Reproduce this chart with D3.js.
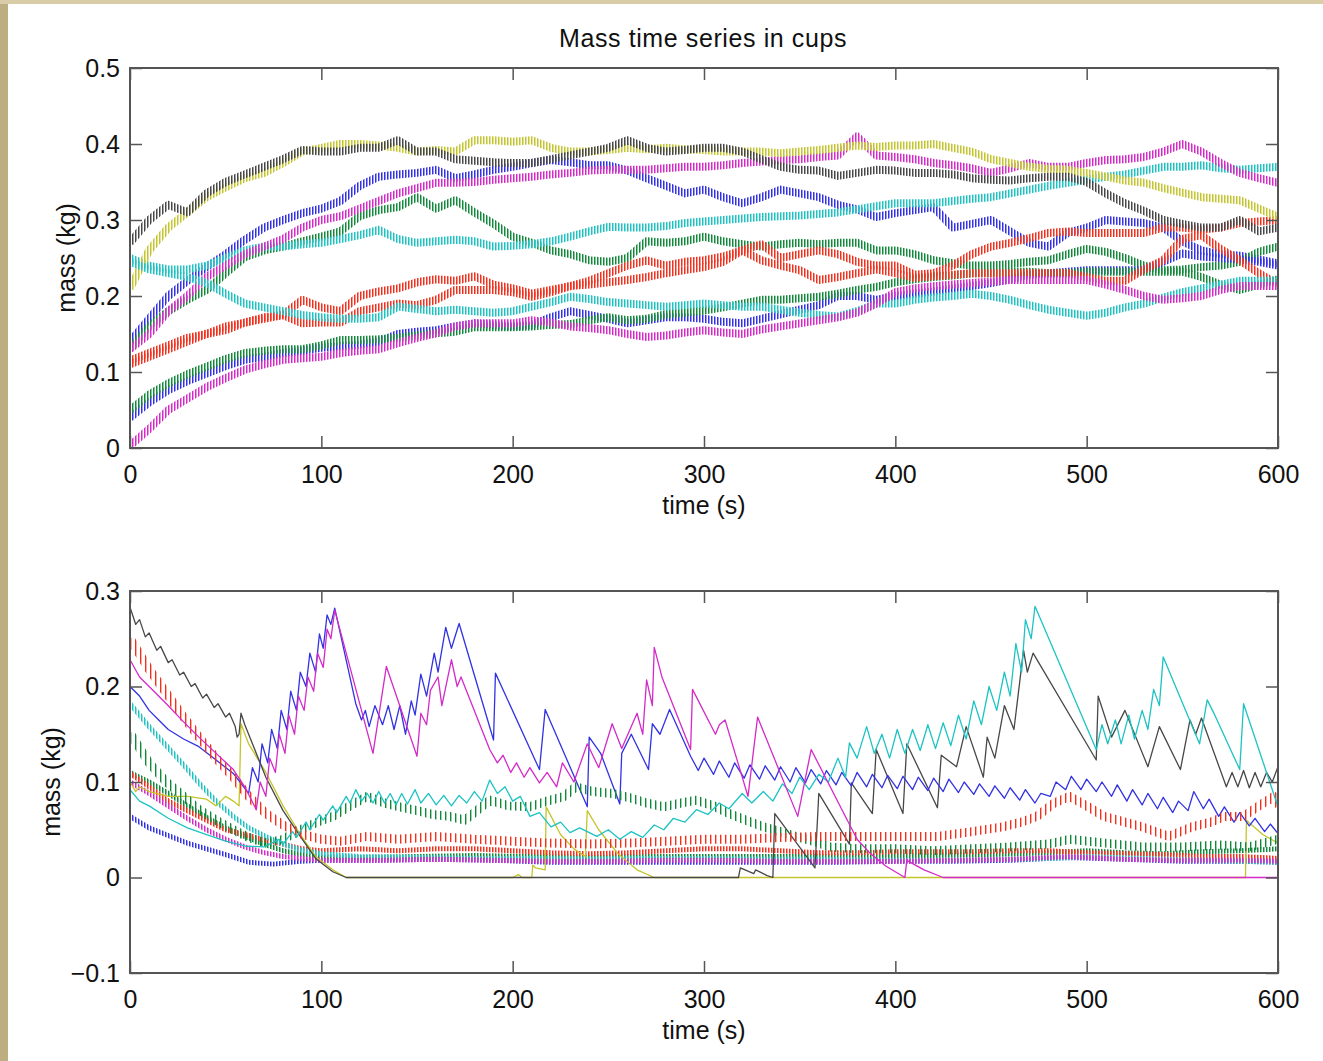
<!DOCTYPE html>
<html>
<head>
<meta charset="utf-8">
<script src="https://cdn.jsdelivr.net/npm/d3@7"></script>
<style>
body { margin: 0; background: #c1b386; }
svg text { font-family: "Liberation Sans", Arial, Helvetica, sans-serif; fill: #111; }
</style>
</head>
<body>
<svg id="fig" width="1323" height="1061"></svg>
<script>
// ---- top panel: mass in the cups, sampled every 10 s ----
var topTimes = d3.range(0, 601, 10);

var topBlueA = [0.14, 0.17, 0.2, 0.22, 0.238, 0.255, 0.274, 0.29, 0.3, 0.309,
    0.315, 0.325, 0.345, 0.357, 0.36, 0.362, 0.366, 0.355, 0.36, 0.366,
    0.37, 0.375, 0.379, 0.376, 0.372, 0.372, 0.365, 0.355, 0.345, 0.335,
    0.34, 0.33, 0.322, 0.33, 0.34, 0.335, 0.33, 0.32, 0.314, 0.304,
    0.309, 0.313, 0.317, 0.29, 0.295, 0.3, 0.285, 0.27, 0.265, 0.283,
    0.29, 0.30, 0.298, 0.296, 0.29, 0.272, 0.26, 0.255, 0.253, 0.248, 0.243];
var topGreenA = [0.13, 0.16, 0.18, 0.195, 0.208, 0.23, 0.251, 0.26, 0.265, 0.272,
    0.278, 0.285, 0.305, 0.313, 0.317, 0.33, 0.315, 0.326, 0.31, 0.295,
    0.278, 0.27, 0.26, 0.255, 0.247, 0.245, 0.25, 0.272, 0.27, 0.272,
    0.278, 0.272, 0.268, 0.265, 0.268, 0.27, 0.268, 0.27, 0.27, 0.26,
    0.26, 0.255, 0.247, 0.243, 0.24, 0.24, 0.242, 0.245, 0.247, 0.255,
    0.262, 0.258, 0.25, 0.24, 0.234, 0.235, 0.238, 0.24, 0.245, 0.258, 0.265];
var topRedA = [0.115, 0.125, 0.135, 0.145, 0.15, 0.16, 0.165, 0.17, 0.175, 0.195,
    0.185, 0.18, 0.2, 0.206, 0.21, 0.218, 0.222, 0.22, 0.226, 0.215,
    0.21, 0.203, 0.208, 0.213, 0.22, 0.23, 0.24, 0.247, 0.24, 0.245,
    0.247, 0.252, 0.26, 0.268, 0.25, 0.255, 0.26, 0.255, 0.245, 0.24,
    0.24, 0.228, 0.23, 0.24, 0.255, 0.265, 0.27, 0.276, 0.283, 0.285,
    0.283, 0.283, 0.283, 0.283, 0.29, 0.29, 0.287, 0.29, 0.296, 0.298, 0.30];
var topCyanA = [0.25, 0.24, 0.235, 0.235, 0.24, 0.25, 0.26, 0.265, 0.265, 0.268,
    0.27, 0.275, 0.28, 0.287, 0.275, 0.27, 0.272, 0.274, 0.272, 0.265,
    0.266, 0.268, 0.272, 0.278, 0.285, 0.291, 0.29, 0.29, 0.292, 0.296,
    0.298, 0.30, 0.302, 0.304, 0.305, 0.306, 0.308, 0.31, 0.314, 0.318,
    0.322, 0.322, 0.322, 0.325, 0.328, 0.33, 0.335, 0.34, 0.345, 0.349,
    0.353, 0.357, 0.36, 0.365, 0.37, 0.37, 0.372, 0.368, 0.366, 0.368, 0.37];
var topMagentaA = [0.13, 0.15, 0.18, 0.2, 0.225, 0.24, 0.255, 0.265, 0.275, 0.29,
    0.3, 0.305, 0.315, 0.325, 0.335, 0.342, 0.349, 0.349, 0.35, 0.353,
    0.355, 0.357, 0.36, 0.362, 0.365, 0.366, 0.366, 0.366, 0.368, 0.37,
    0.37, 0.372, 0.375, 0.377, 0.379, 0.38, 0.383, 0.385, 0.41, 0.385,
    0.383, 0.38, 0.375, 0.372, 0.368, 0.362, 0.368, 0.375, 0.37, 0.37,
    0.375, 0.379, 0.38, 0.383, 0.39, 0.40, 0.39, 0.375, 0.362, 0.355, 0.349];
var topOlive = [0.21, 0.26, 0.29, 0.31, 0.33, 0.343, 0.355, 0.362, 0.375, 0.39,
    0.395, 0.40, 0.40, 0.398, 0.395, 0.39, 0.392, 0.39, 0.405, 0.405,
    0.403, 0.405, 0.395, 0.39, 0.39, 0.392, 0.395, 0.393, 0.395, 0.393,
    0.392, 0.39, 0.39, 0.39, 0.388, 0.39, 0.392, 0.395, 0.398, 0.396,
    0.398, 0.398, 0.40, 0.395, 0.39, 0.38, 0.375, 0.37, 0.367, 0.366,
    0.362, 0.357, 0.352, 0.349, 0.342, 0.336, 0.33, 0.328, 0.326, 0.315, 0.304];
var topBlack = [0.27, 0.30, 0.32, 0.31, 0.335, 0.35, 0.36, 0.37, 0.38, 0.392,
    0.39, 0.39, 0.395, 0.395, 0.405, 0.39, 0.39, 0.38, 0.378, 0.376,
    0.375, 0.375, 0.38, 0.385, 0.39, 0.395, 0.405, 0.395, 0.39, 0.392,
    0.395, 0.395, 0.39, 0.38, 0.37, 0.366, 0.365, 0.358, 0.362, 0.366,
    0.365, 0.362, 0.362, 0.36, 0.355, 0.353, 0.352, 0.355, 0.357, 0.357,
    0.35, 0.335, 0.322, 0.312, 0.30, 0.295, 0.29, 0.29, 0.30, 0.285, 0.29];
var topBlueB = [0.04, 0.06, 0.076, 0.088, 0.098, 0.108, 0.116, 0.12, 0.125, 0.128,
    0.132, 0.134, 0.136, 0.14, 0.15, 0.153, 0.155, 0.16, 0.164, 0.162,
    0.16, 0.162, 0.172, 0.18, 0.175, 0.17, 0.164, 0.168, 0.172, 0.172,
    0.17, 0.166, 0.164, 0.17, 0.176, 0.182, 0.188, 0.2, 0.2, 0.195,
    0.2, 0.203, 0.206, 0.21, 0.213, 0.217, 0.222, 0.228, 0.23, 0.232,
    0.234, 0.234, 0.234, 0.234, 0.245, 0.256, 0.252, 0.25, 0.248, 0.245, 0.24];
var topGreenB = [0.05, 0.07, 0.085, 0.097, 0.107, 0.117, 0.125, 0.128, 0.13, 0.13,
    0.135, 0.142, 0.142, 0.143, 0.145, 0.148, 0.151, 0.153, 0.159, 0.159,
    0.159, 0.16, 0.162, 0.163, 0.168, 0.172, 0.168, 0.17, 0.176, 0.178,
    0.181, 0.185, 0.19, 0.195, 0.195, 0.197, 0.199, 0.203, 0.208, 0.212,
    0.218, 0.222, 0.225, 0.227, 0.23, 0.23, 0.232, 0.232, 0.23, 0.23,
    0.232, 0.232, 0.232, 0.232, 0.232, 0.232, 0.225, 0.215, 0.208, 0.215, 0.222];
var topRedB = [0.11, 0.12, 0.13, 0.14, 0.15, 0.155, 0.165, 0.172, 0.175, 0.164,
    0.165, 0.165, 0.18, 0.185, 0.19, 0.188, 0.195, 0.208, 0.208, 0.208,
    0.205, 0.199, 0.205, 0.213, 0.215, 0.218, 0.221, 0.225, 0.23, 0.234,
    0.238, 0.245, 0.26, 0.247, 0.24, 0.234, 0.221, 0.225, 0.23, 0.235,
    0.23, 0.224, 0.226, 0.228, 0.23, 0.23, 0.23, 0.23, 0.23, 0.23,
    0.225, 0.22, 0.22, 0.235, 0.247, 0.275, 0.28, 0.262, 0.247, 0.23, 0.215];
var topCyanB = [0.245, 0.235, 0.23, 0.225, 0.217, 0.203, 0.19, 0.185, 0.18, 0.175,
    0.172, 0.17, 0.17, 0.172, 0.186, 0.183, 0.18, 0.182, 0.18, 0.178,
    0.18, 0.186, 0.192, 0.199, 0.196, 0.192, 0.19, 0.188, 0.186, 0.188,
    0.19, 0.188, 0.186, 0.186, 0.182, 0.178, 0.175, 0.173, 0.18, 0.19,
    0.19, 0.195, 0.198, 0.20, 0.203, 0.2, 0.195, 0.188, 0.182, 0.178,
    0.174, 0.178, 0.185, 0.19, 0.198, 0.205, 0.21, 0.215, 0.22, 0.22, 0.22];
var topMagentaB = [0.003, 0.025, 0.05, 0.065, 0.08, 0.092, 0.103, 0.11, 0.116, 0.118,
    0.12, 0.125, 0.128, 0.13, 0.138, 0.145, 0.151, 0.16, 0.164, 0.164,
    0.164, 0.168, 0.165, 0.16, 0.158, 0.155, 0.15, 0.146, 0.148, 0.152,
    0.155, 0.152, 0.15, 0.156, 0.16, 0.164, 0.168, 0.172, 0.178, 0.19,
    0.205, 0.21, 0.213, 0.215, 0.217, 0.219, 0.221, 0.221, 0.221, 0.221,
    0.221, 0.215, 0.208, 0.2, 0.195, 0.197, 0.2, 0.208, 0.213, 0.213, 0.213];

// ---- bottom panel: [time s, mass kg] pairs ----
var lowBlueA = [[0,0.064],[5,0.058],[10,0.052],[20,0.044],[30,0.036],[40,0.03],[50,0.024],[62,0.016],[75,0.014],
    [89,0.017],[100,0.018],[130,0.018],[160,0.019],[190,0.018],[220,0.016],[250,0.016],[280,0.016],[310,0.016],
    [340,0.016],[370,0.016],[400,0.017],[430,0.017],[460,0.018],[490,0.021],[520,0.019],[550,0.017],[580,0.017],[600,0.016]];
var lowGreenA = [[0,0.11],[5,0.105],[10,0.1],[20,0.088],[30,0.075],[40,0.063],[50,0.052],[60,0.043],[70,0.035],
    [80,0.028],[90,0.024],[100,0.022],[120,0.021],[150,0.022],[180,0.023],[210,0.022],[240,0.021],[270,0.022],
    [300,0.022],[330,0.022],[360,0.022],[390,0.022],[420,0.023],[450,0.024],[480,0.026],[500,0.028],[520,0.026],
    [540,0.025],[560,0.027],[580,0.028],[600,0.03]];
var lowRedA = [[0,0.109],[10,0.095],[20,0.08],[30,0.07],[40,0.06],[50,0.05],[60,0.045],[71,0.039],[80,0.035],
    [90,0.03],[100,0.028],[120,0.03],[140,0.028],[160,0.03],[180,0.03],[200,0.028],[220,0.026],[240,0.025],
    [260,0.026],[280,0.028],[300,0.03],[320,0.03],[340,0.028],[360,0.026],[380,0.026],[400,0.027],[420,0.027],
    [440,0.027],[460,0.028],[480,0.028],[500,0.026],[520,0.025],[540,0.024],[560,0.022],[580,0.022],[600,0.02]];
var lowCyanA = [[0,0.182],[10,0.158],[19,0.138],[28,0.118],[36,0.099],[45,0.08],[54,0.064],[62,0.052],[71,0.043],
    [80,0.035],[89,0.029],[100,0.025],[120,0.022],[150,0.021],[180,0.02],[210,0.02],[240,0.019],[270,0.02],
    [300,0.02],[330,0.019],[360,0.019],[390,0.018],[420,0.018],[450,0.019],[480,0.02],[500,0.022],[530,0.02],
    [560,0.018],[580,0.017],[600,0.016]];
var lowMagentaA = [[0,0.1],[10,0.088],[20,0.075],[30,0.062],[40,0.05],[50,0.04],[60,0.032],[70,0.026],[80,0.022],
    [90,0.02],[100,0.018],[130,0.018],[160,0.019],[190,0.018],[220,0.017],[250,0.017],[280,0.018],[310,0.018],
    [340,0.017],[370,0.017],[400,0.017],[430,0.018],[460,0.019],[490,0.022],[520,0.019],[550,0.018],[580,0.018],[600,0.017]];
var lowOlive = [[0,0.1],[3,0.09],[5,0.095],[10,0.09],[20,0.085],[30,0.085],[40,0.082],[45,0.075],[50,0.085],
    [54,0.08],[57,0.075],[58,0.161],[62,0.14],[71,0.11],[80,0.075],[89,0.045],[97,0.022],[106,0.008],[113,0],
    [200,0],[203,0.003],[205,0],[210,0],[210.5,0.013],[212,0.01],[217,0.008],[217.5,0.074],[225,0.045],[232,0.03],
    [238,0.022],[239,0.07],[245,0.05],[255,0.025],[265,0.008],[274,0],[583,0],[583.5,0.06],[592,0.045],[600,0.036]];
var lowBlack = [[0,0.283],[3,0.265],[5,0.27],[8,0.252],[10,0.256],[14,0.238],[16,0.242],[20,0.225],[22,0.228],
    [26,0.212],[28,0.215],[32,0.2],[34,0.203],[38,0.188],[40,0.192],[44,0.178],[46,0.182],[50,0.168],[52,0.172],
    [55,0.158],[56,0.147],[57,0.15],[58,0.172],[60,0.16],[65,0.135],[71,0.105],[80,0.07],[89,0.043],[97,0.02],
    [106,0.006],[113,0],[318,0],[319,0.01],[326,0.004],[327,0.008],[333,0.002],[336,0],[337,0.067],[358,0.01],
    [360,0.088],[376,0.035],[377,0.099],[388,0.067],[390,0.134],[404,0.067],[406,0.14],[422,0.073],[424,0.128],
    [432,0.116],[437,0.158],[446,0.105],[448,0.147],[452,0.125],[457,0.18],[462,0.155],[467,0.238],[469,0.215],
    [472,0.235],[505,0.123],[506,0.19],[513,0.147],[520,0.175],[532,0.116],[538,0.158],[549,0.113],[554,0.165],
    [557,0.15],[560,0.167],[573,0.095],[576,0.11],[579,0.095],[582,0.112],[585,0.094],[588,0.11],[591,0.095],
    [594,0.11],[597,0.1],[600,0.116]];
var lowBlueB = [[0,0.2],[5,0.19],[10,0.175],[15,0.165],[20,0.155],[28,0.145],[36,0.137],[45,0.123],[54,0.109],
    [62,0.088],[64,0.115],[67,0.1],[69,0.14],[72,0.12],[74,0.155],[77,0.135],[79,0.175],[82,0.155],[84,0.195],
    [87,0.175],[89,0.215],[92,0.2],[94,0.235],[97,0.215],[99,0.255],[101,0.24],[103,0.275],[105,0.265],[107,0.282],
    [118,0.182],[121,0.165],[123,0.175],[125,0.158],[128,0.18],[132,0.16],[135,0.18],[138,0.155],[141,0.18],
    [144,0.15],[147,0.185],[149,0.17],[152,0.213],[155,0.19],[159,0.235],[161,0.215],[165,0.262],[168,0.24],
    [172,0.266],[190,0.144],[191,0.214],[214,0.113],[217,0.176],[239,0.074],[240,0.147],[246,0.13],[256,0.077],
    [257,0.13],[262,0.15],[271,0.113],[273,0.161],[277,0.15],[282,0.176],[293,0.127],[297,0.112],[300,0.125],
    [305,0.108],[308,0.122],[313,0.105],[316,0.12],[321,0.104],[324,0.118],[329,0.103],[332,0.117],[337,0.102],
    [340,0.116],[345,0.1],[348,0.115],[353,0.099],[356,0.113],[361,0.098],[364,0.112],[369,0.097],[372,0.11],
    [377,0.096],[380,0.11],[385,0.095],[388,0.108],[393,0.094],[396,0.107],[401,0.093],[404,0.106],[409,0.092],
    [412,0.105],[417,0.091],[420,0.104],[425,0.09],[428,0.103],[433,0.089],[436,0.1],[441,0.087],[444,0.098],
    [449,0.085],[452,0.096],[457,0.083],[460,0.094],[465,0.081],[468,0.092],[473,0.078],[476,0.088],[481,0.085],
    [484,0.1],[489,0.092],[492,0.106],[497,0.092],[500,0.103],[505,0.09],[508,0.1],[513,0.085],[516,0.097],
    [521,0.08],[524,0.092],[529,0.076],[532,0.088],[537,0.072],[540,0.084],[545,0.068],[548,0.08],[553,0.07],
    [556,0.09],[561,0.072],[564,0.082],[569,0.064],[572,0.074],[577,0.058],[580,0.068],[585,0.054],[588,0.062],
    [593,0.048],[596,0.056],[600,0.046]];
var lowGreenB = [[0,0.151],[10,0.12],[19,0.1],[28,0.085],[36,0.071],[45,0.06],[54,0.05],[62,0.042],[71,0.036],
    [80,0.04],[89,0.05],[98,0.058],[106,0.064],[115,0.075],[124,0.085],[133,0.078],[141,0.074],[150,0.07],
    [158,0.066],[167,0.064],[175,0.06],[188,0.081],[198,0.075],[209,0.074],[218,0.08],[227,0.085],[233,0.095],
    [242,0.09],[252,0.088],[262,0.083],[270,0.078],[279,0.074],[288,0.078],[296,0.081],[305,0.075],[313,0.067],
    [322,0.06],[331,0.053],[340,0.048],[348,0.043],[357,0.038],[366,0.032],[380,0.03],[400,0.03],[420,0.028],
    [440,0.03],[460,0.032],[480,0.035],[491,0.04],[510,0.036],[529,0.032],[550,0.032],[570,0.034],[585,0.032],[600,0.04]];
var lowRedB = [[0,0.25],[10,0.218],[19,0.193],[28,0.168],[36,0.147],[45,0.125],[54,0.105],[62,0.085],[71,0.067],
    [80,0.055],[89,0.046],[100,0.04],[110,0.038],[124,0.043],[140,0.04],[160,0.043],[180,0.04],[200,0.038],
    [220,0.036],[240,0.035],[260,0.036],[280,0.038],[300,0.04],[320,0.04],[340,0.042],[360,0.043],[380,0.043],
    [400,0.043],[422,0.043],[440,0.048],[456,0.053],[466,0.058],[474,0.064],[483,0.078],[491,0.085],[500,0.075],
    [509,0.064],[520,0.058],[529,0.053],[543,0.043],[555,0.053],[565,0.058],[572,0.064],[582,0.064],[590,0.075],
    [598,0.085],[600,0.074]];
var lowCyanB = [[0,0.092],[5,0.08],[10,0.075],[20,0.062],[30,0.052],[40,0.045],[50,0.038],[60,0.033],[70,0.032],
    [78,0.04],[80,0.035],[85,0.048],[87,0.042],[92,0.058],[94,0.05],[99,0.066],[101,0.06],[106,0.075],[108,0.068],
    [113,0.085],[115,0.078],[118,0.092],[121,0.08],[124,0.088],[127,0.078],[130,0.09],[133,0.078],[136,0.088],
    [139,0.076],[142,0.088],[145,0.077],[149,0.092],[152,0.078],[156,0.088],[160,0.076],[164,0.086],[168,0.075],
    [172,0.086],[176,0.078],[180,0.09],[184,0.08],[188,0.102],[192,0.088],[196,0.095],[200,0.08],[204,0.085],
    [209,0.064],[214,0.068],[220,0.053],[225,0.058],[230,0.047],[235,0.052],[244,0.043],[250,0.05],[256,0.04],
    [262,0.048],[268,0.042],[274,0.055],[279,0.05],[284,0.062],[290,0.058],[296,0.071],[302,0.066],[308,0.078],
    [313,0.072],[320,0.088],[325,0.078],[331,0.09],[336,0.08],[341,0.098],[346,0.088],[350,0.105],[355,0.092],
    [360,0.108],[365,0.1],[370,0.125],[374,0.105],[376,0.141],[380,0.125],[385,0.158],[389,0.13],[393,0.15],
    [397,0.125],[401,0.155],[405,0.13],[409,0.155],[413,0.133],[417,0.16],[421,0.135],[425,0.162],[429,0.138],
    [433,0.17],[437,0.145],[441,0.185],[445,0.16],[449,0.2],[453,0.175],[457,0.215],[460,0.19],[463,0.245],
    [466,0.215],[468,0.27],[471,0.25],[473,0.284],[505,0.134],[508,0.16],[511,0.14],[515,0.165],[518,0.14],
    [522,0.17],[525,0.145],[529,0.175],[532,0.155],[535,0.197],[538,0.18],[540,0.231],[559,0.14],[563,0.186],
    [567,0.17],[580,0.113],[582,0.182],[600,0.074]];
var lowMagentaB = [[0,0.228],[5,0.21],[10,0.2],[19,0.182],[28,0.163],[36,0.147],[45,0.13],[54,0.113],[60,0.095],
    [66,0.071],[68,0.1],[71,0.085],[73,0.125],[76,0.11],[78,0.15],[81,0.13],[83,0.17],[86,0.15],[88,0.19],
    [91,0.175],[93,0.21],[96,0.195],[98,0.235],[101,0.22],[103,0.26],[105,0.25],[107,0.28],[127,0.13],[134,0.221],
    [150,0.127],[152,0.172],[155,0.16],[157,0.196],[161,0.21],[163,0.18],[168,0.228],[171,0.2],[173,0.21],
    [188,0.134],[192,0.12],[195,0.128],[199,0.11],[202,0.12],[206,0.105],[209,0.115],[214,0.099],[218,0.11],
    [223,0.095],[226,0.12],[232,0.1],[239,0.14],[245,0.115],[252,0.161],[257,0.135],[265,0.172],[268,0.15],
    [270,0.207],[273,0.18],[274,0.241],[278,0.21],[293,0.134],[294,0.197],[306,0.15],[308,0.16],[311,0.165],
    [323,0.085],[328,0.168],[349,0.064],[356,0.134],[380,0.04],[387,0.025],[395,0.012],[405,0],[406,0.018],
    [415,0.008],[425,0],[600,0]];

var xTicks = [0, 100, 200, 300, 400, 500, 600];
var topYTicks = [0, 0.1, 0.2, 0.3, 0.4, 0.5];
var lowYTicks = [-0.1, 0, 0.1, 0.2, 0.3];

var colors = {
    b: "#3232e4", g: "#12893a", r: "#f2301e", c: "#1dc3c3",
    m: "#d42ac8", y: "#c4c42c", k: "#474747"
};

var svg = d3.select("#fig");
svg.append("rect").attr("width", 1323).attr("height", 1061).attr("fill", "#bcae80");
svg.append("rect").attr("width", 1323).attr("height", 4).attr("fill", "#d8cda6");
svg.append("rect").attr("x", 8).attr("y", 4).attr("width", 1315).attr("height", 1057).attr("fill", "#fff");

// vertical stripe patterns, they imitate the dense zigzag of the sampled series
var defs = svg.append("defs");
function stripes(k, period, w) {
    var id = "stripe-" + k + "-" + period;
    var p = defs.append("pattern")
        .attr("id", id)
        .attr("patternUnits", "userSpaceOnUse")
        .attr("width", period).attr("height", 20);
    p.append("rect").attr("width", w).attr("height", 20).attr("fill", colors[k]);
    return "url(#" + id + ")";
}
var fine = {}, coarse = {};
Object.keys(colors).forEach(function (k) {
    fine[k] = stripes(k, 3, 1.5);
    coarse[k] = stripes(k, 5, 1.4);
});

var x = d3.scaleLinear().domain([0, 600]).range([130, 1278]);

function drawPanel(id, top, bottom, domain, yTicks, series, yLabelX) {
    var y = d3.scaleLinear().domain(domain).range([bottom, top]);
    var g = svg.append("g");

    defs.append("clipPath").attr("id", "clip-" + id)
        .append("rect")
        .attr("x", 130).attr("y", top)
        .attr("width", 1148).attr("height", bottom - top);

    var line = d3.line()
        .x(function (d) { return x(d[0]); })
        .y(function (d) { return y(d[1]); });

    var plot = g.append("g").attr("clip-path", "url(#clip-" + id + ")");
    series.forEach(function (s) {
        var stroke = colors[s.c];
        if (s.band) stroke = s.open ? coarse[s.c] : fine[s.c];
        plot.append("path")
            .datum(s.points)
            .attr("fill", "none")
            .attr("stroke", stroke)
            .attr("stroke-width", s.band || 1.3)
            .attr("stroke-linejoin", "round")
            .attr("d", line);
    });

    var fmt = function (d) { return d === 0 ? "0" : d3.format(".1f")(d); };

    g.append("g").attr("class", "axis")
        .attr("transform", "translate(0," + bottom + ")")
        .call(d3.axisBottom(x).tickValues(xTicks).tickSizeInner(-12).tickSizeOuter(0).tickPadding(17));
    g.append("g").attr("class", "axis")
        .attr("transform", "translate(0," + top + ")")
        .call(d3.axisTop(x).tickValues(xTicks).tickSizeInner(-12).tickSizeOuter(0).tickFormat(""));
    g.append("g").attr("class", "axis")
        .attr("transform", "translate(130,0)")
        .call(d3.axisLeft(y).tickValues(yTicks).tickSizeInner(-12).tickSizeOuter(0).tickPadding(10).tickFormat(fmt));
    g.append("g").attr("class", "axis")
        .attr("transform", "translate(1278,0)")
        .call(d3.axisRight(y).tickValues(yTicks).tickSizeInner(-12).tickSizeOuter(0).tickFormat(""));

    g.selectAll(".axis .domain").remove();
    g.selectAll(".axis line").attr("stroke", "#555").attr("stroke-width", 1.5);
    g.selectAll(".axis text")
        .style("font-family", "'Liberation Sans', Arial, sans-serif")
        .style("font-size", "25px").attr("fill", "#111");

    g.append("rect")
        .attr("x", 130).attr("y", top)
        .attr("width", 1148).attr("height", bottom - top)
        .attr("fill", "none").attr("stroke", "#555").attr("stroke-width", 2);

    g.append("text")
        .attr("x", 704).attr("y", bottom + 66)
        .attr("text-anchor", "middle")
        .style("font-size", "25px")
        .text("time (s)");

    g.append("text")
        .attr("transform", "translate(" + yLabelX + "," + (top + bottom) / 2 + ") rotate(-90)")
        .attr("text-anchor", "middle")
        .style("font-size", "25px")
        .text("mass (kg)");
}

function topSeries(values, c) {
    return {c: c, band: 8, points: values.map(function (v, i) { return [topTimes[i], v]; })};
}

drawPanel("top", 68, 448, [0, 0.5], topYTicks, [
    topSeries(topBlueA, "b"), topSeries(topGreenA, "g"), topSeries(topRedA, "r"),
    topSeries(topCyanA, "c"), topSeries(topMagentaA, "m"), topSeries(topOlive, "y"),
    topSeries(topBlack, "k"), topSeries(topBlueB, "b"), topSeries(topGreenB, "g"),
    topSeries(topRedB, "r"), topSeries(topCyanB, "c"), topSeries(topMagentaB, "m")
], 75);

drawPanel("low", 591, 973, [-0.1, 0.3], lowYTicks, [
    {c: "b", band: 5, points: lowBlueA}, {c: "g", band: 5, points: lowGreenA},
    {c: "r", band: 5, points: lowRedA}, {c: "c", band: 5, points: lowCyanA},
    {c: "m", band: 5, points: lowMagentaA}, {c: "y", points: lowOlive},
    {c: "k", points: lowBlack}, {c: "b", points: lowBlueB},
    {c: "g", band: 9, open: true, points: lowGreenB}, {c: "r", band: 9, open: true, points: lowRedB},
    {c: "c", points: lowCyanB}, {c: "m", points: lowMagentaB}
], 60);

svg.append("text")
    .attr("x", 703).attr("y", 47)
    .attr("text-anchor", "middle")
    .style("font-size", "25px")
    .style("letter-spacing", "0.6px")
    .text("Mass time series in cups");
</script>
</body>
</html>
